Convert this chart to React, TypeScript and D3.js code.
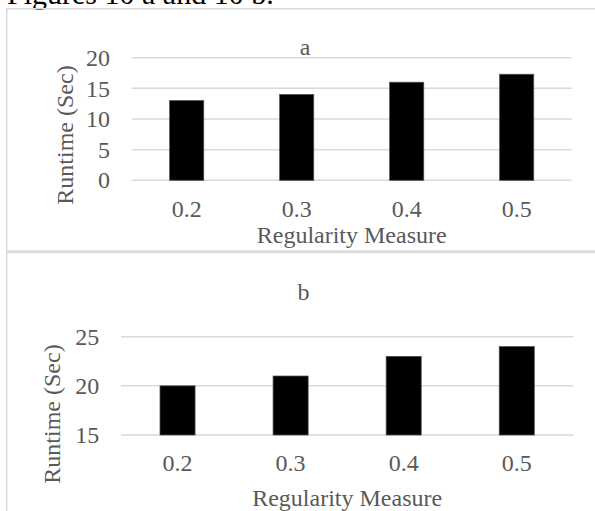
import React, { useEffect, useRef } from 'react';
import * as d3 from 'd3';

// values
const categories = ['0.2', '0.3', '0.4', '0.5'];
const runtimeA = [13, 14, 16, 17.3];
const runtimeB = [20, 21, 23, 24];
const ticksA = [0, 5, 10, 15, 20];
const ticksB = [15, 20, 25];

const FONT = '"Liberation Serif", "Times New Roman", serif';
const TEXT = '#595959';
const GRID = '#d9d9d9';

// layout of each panel (pixels)
const panels = [
  {
    title: 'a', values: runtimeA, ticks: ticksA, domain: [0, 20],
    x0: 131.7, x1: 571.7, yBottom: 180.3, yTop: 57.7,
    titleX: 305, titleY: 55, tickLabelX: 110, xLabelY: 216.7,
    axisTitleY: 242.7, yTitleX: 73, yTitleY: 135,
  },
  {
    title: 'b', values: runtimeB, ticks: ticksB, domain: [15, 25],
    x0: 121, x1: 573.3, yBottom: 435, yTop: 336.7,
    titleX: 303.6, titleY: 300, tickLabelX: 99.3, xLabelY: 470.7,
    axisTitleY: 506, yTitleX: 60, yTitleY: 414,
  },
];

export default function App() {
  const svgRef = useRef(null);

  useEffect(() => {
    const svg = d3.select(svgRef.current);
    svg.selectAll('*').remove();

    // caption cut off at the top
    svg.append('text')
      .attr('x', 7)
      .attr('y', 3.5)
      .attr('font-family', FONT)
      .attr('font-size', 30)
      .attr('fill', '#000')
      .text('Figures 10 a and 10 b.');

    // panel frames
    const frame = svg.append('g')
      .attr('stroke', GRID)
      .attr('stroke-width', 1.5)
      .attr('fill', 'none');
    frame.append('path').attr('d', 'M595,8.7H6.7V251H595');
    frame.append('path').attr('d', 'M595,252.6H6.7V511');

    panels.forEach((p) => {
      const g = svg.append('g');

      const x = d3.scaleBand()
        .domain(categories)
        .range([p.x0, p.x1])
        .paddingInner(0.69)
        .paddingOuter(0.345);

      const y = d3.scaleLinear()
        .domain(p.domain)
        .range([p.yBottom, p.yTop]);

      // gridlines
      g.selectAll('.grid')
        .data(p.ticks)
        .enter()
        .append('line')
        .attr('x1', p.x0)
        .attr('x2', p.x1)
        .attr('y1', (d) => y(d))
        .attr('y2', (d) => y(d))
        .attr('stroke', GRID)
        .attr('stroke-width', 1.5);

      // y tick labels
      g.selectAll('.ytick')
        .data(p.ticks)
        .enter()
        .append('text')
        .attr('x', p.tickLabelX)
        .attr('y', (d) => y(d))
        .attr('dy', '0.34em')
        .attr('text-anchor', 'end')
        .attr('font-family', FONT)
        .attr('font-size', 24)
        .attr('fill', TEXT)
        .text((d) => d);

      // bars
      g.selectAll('rect')
        .data(p.values)
        .enter()
        .append('rect')
        .attr('x', (d, i) => x(categories[i]))
        .attr('y', (d) => y(d))
        .attr('width', x.bandwidth())
        .attr('height', (d) => y(p.domain[0]) - y(d))
        .attr('fill', '#000')
        .attr('stroke', '#4d4d4d')
        .attr('stroke-width', 0.75);

      // x tick labels
      g.selectAll('.xtick')
        .data(categories)
        .enter()
        .append('text')
        .attr('x', (d) => x(d) + x.bandwidth() / 2)
        .attr('y', p.xLabelY)
        .attr('text-anchor', 'middle')
        .attr('font-family', FONT)
        .attr('font-size', 24)
        .attr('fill', TEXT)
        .text((d) => d);

      // chart title
      g.append('text')
        .attr('x', p.titleX)
        .attr('y', p.titleY)
        .attr('text-anchor', 'middle')
        .attr('font-family', FONT)
        .attr('font-size', 24)
        .attr('fill', TEXT)
        .text(p.title);

      // axis titles
      g.append('text')
        .attr('x', (p.x0 + p.x1) / 2)
        .attr('y', p.axisTitleY)
        .attr('text-anchor', 'middle')
        .attr('font-family', FONT)
        .attr('font-size', 24)
        .attr('fill', TEXT)
        .text('Regularity Measure');

      g.append('text')
        .attr('transform', `translate(${p.yTitleX},${p.yTitleY}) rotate(-90)`)
        .attr('text-anchor', 'middle')
        .attr('font-family', FONT)
        .attr('font-size', 24)
        .attr('fill', TEXT)
        .text('Runtime (Sec)');
    });
  }, []);

  return (
    <svg
      ref={svgRef}
      width={595}
      height={511}
      style={{ position: 'absolute', left: 0, top: 0, background: '#fff' }}
    />
  );
}
